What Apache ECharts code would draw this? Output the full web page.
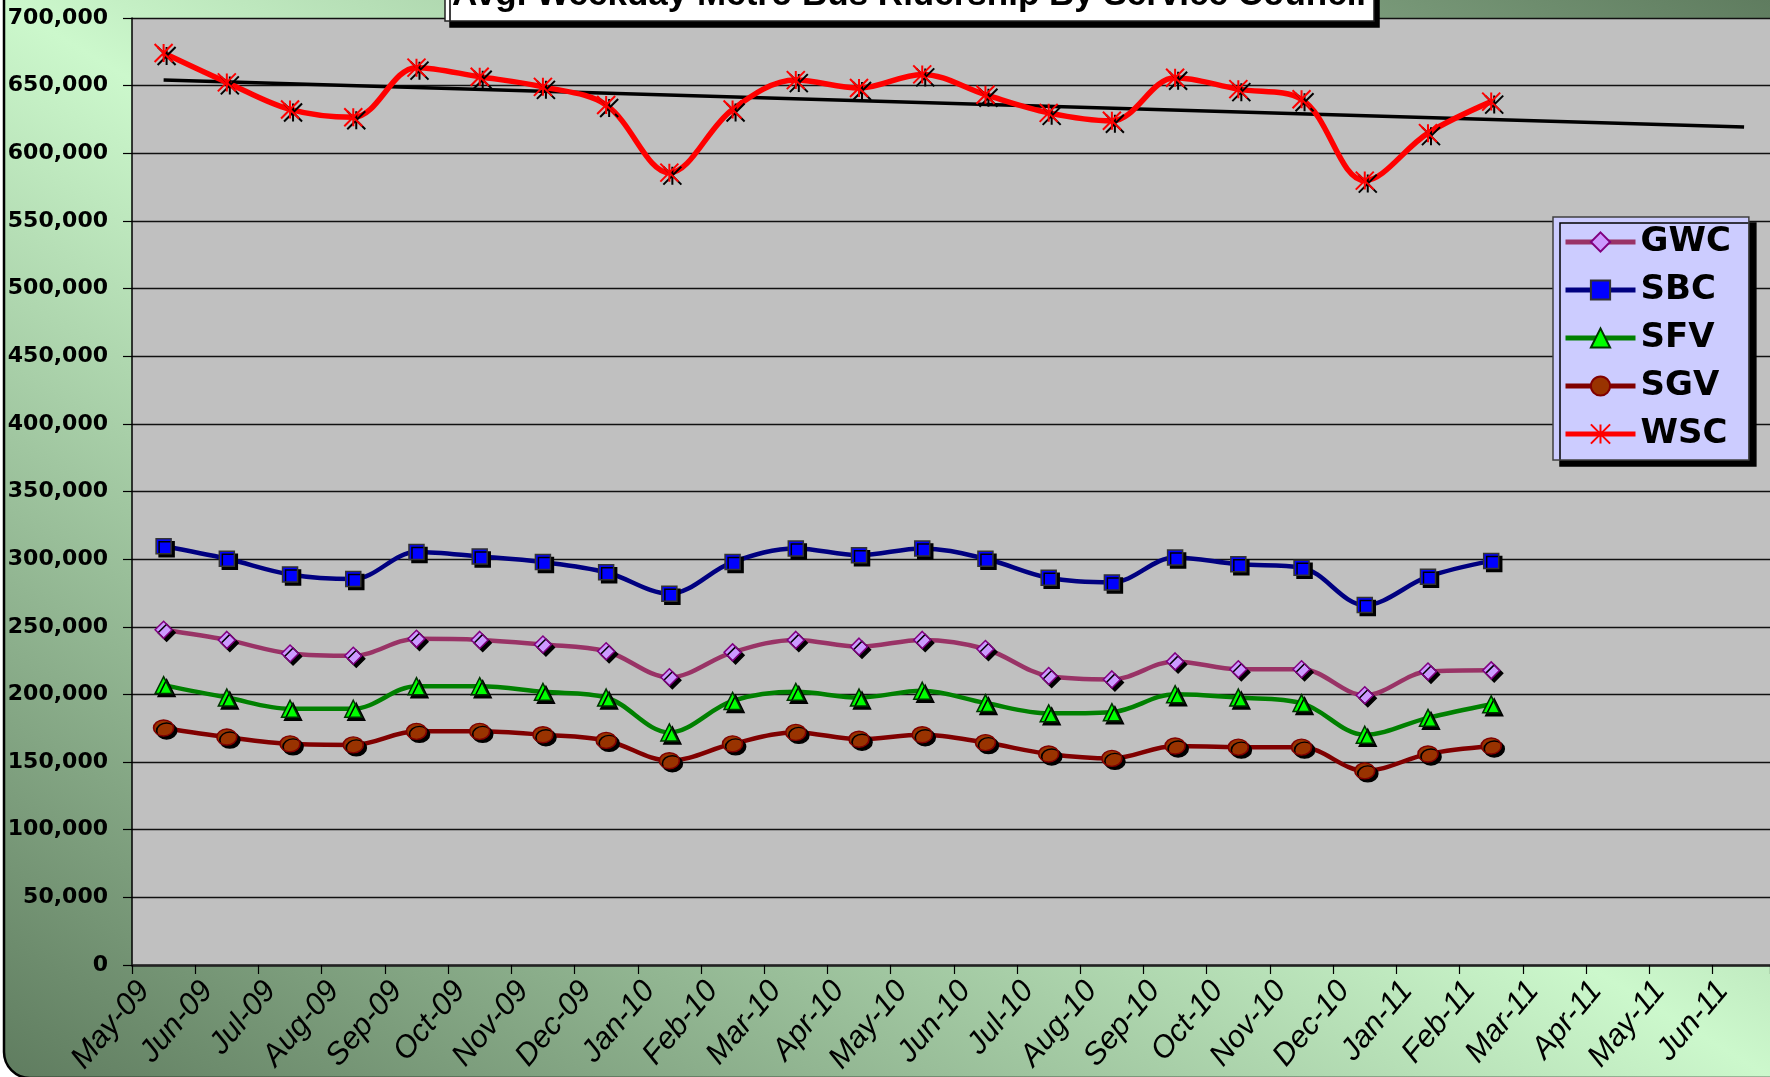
<!DOCTYPE html>
<html><head><meta charset="utf-8">
<script src="https://cdn.jsdelivr.net/npm/echarts@6/dist/echarts.min.js"></script>
<style>html,body{margin:0;padding:0;background:#fff;}#c{width:1770px;height:1077px;}</style>
</head><body><div id="c"></div>
<script>
// tick labels (month boundaries)
const months = ['May-09','Jun-09','Jul-09','Aug-09','Sep-09','Oct-09','Nov-09','Dec-09',
  'Jan-10','Feb-10','Mar-10','Apr-10','May-10','Jun-10','Jul-10','Aug-10','Sep-10','Oct-10','Nov-10','Dec-10',
  'Jan-11','Feb-11','Mar-11','Apr-11','May-11','Jun-11'];
const seriesNames = ['GWC','SBC','SFV','SGV','WSC'];
// values May-09 .. Feb-11
const gwc = [247800,240300,230300,228600,241100,240300,236900,231900,212700,231100,240300,235300,240300,233600,213600,211100,224400,218600,218600,199400,216900,217800];
const sbc = [309500,300300,288700,285300,305300,302000,297800,290300,274500,297800,307900,302900,307900,300300,286200,282800,301200,296200,293700,266100,287000,298700];
const sfv = [206900,197700,189400,189400,206100,206100,201900,197700,171900,195200,201900,197700,202700,193600,186000,186900,200200,197700,193600,170200,182700,192700];
const sgv = [175200,168500,163500,162700,172700,172700,170200,166000,151000,163500,171900,166900,170200,164400,156000,152700,161900,161000,161000,143500,156000,161900];
const wsc = [674100,652400,632400,626600,663300,656600,649100,635700,585700,632400,654100,648200,658300,643300,629900,624000,655800,647400,639900,579800,614900,638200];
// linear trend of WSC: value at first month and at Jun-11
const trendMonths = [0, 25];
const trend = [654100, 619500];

const pts = arr => arr.map((v, i) => [i + 0.5, v]);
const shadow = {shadowColor:'#000', shadowOffsetX:3, shadowOffsetY:3, shadowBlur:0};
const asterisk = 'path://M0,0L20,20M20,0L0,20M10,0L10,20';

const chart = echarts.init(document.getElementById('c'));
const option = {
  animation:false,
  backgroundColor:'#ffffff',
  grid:[
    {left:132, right:0, top:18, height:947, show:true, backgroundColor:'#c0c0c0', borderWidth:0},
    {left:144, right:0, top:18, height:947, show:false}
  ],
  xAxis:[
    {type:'value', gridIndex:0, min:0, max:25.91, interval:1,
     axisLine:{show:true, lineStyle:{color:'#222', width:2.5}},
     axisTick:{show:true, length:9, lineStyle:{color:'#000', width:1.2}},
     axisLabel:{show:false}, splitLine:{show:false}},
    {type:'value', gridIndex:1, min:0, max:25.72, interval:1,
     axisLine:{show:false}, axisTick:{show:false}, splitLine:{show:false},
     axisLabel:{show:true, rotate:50, margin:28, color:'#000',
       fontFamily:'Liberation Sans', fontStyle:'italic', fontSize:31,
       formatter: v => months[v] || ''}}
  ],
  yAxis:[
    {type:'value', gridIndex:0, min:0, max:700000, interval:50000,
     axisLine:{show:true, lineStyle:{color:'#000', width:1.5}},
     axisTick:{show:true, length:9, lineStyle:{color:'#000', width:1.2}},
     splitLine:{show:true, lineStyle:{color:'#111', width:1.3}},
     axisLabel:{margin:24, color:'#000', fontFamily:'DejaVu Sans', fontWeight:'bold', fontSize:22,
       formatter: v => v.toLocaleString('en-US')}},
    {type:'value', gridIndex:1, min:0, max:700000, show:false}
  ],
  legend:{
    data:seriesNames, orient:'vertical', left:1553, top:217,
    itemWidth:70, itemHeight:24, itemGap:14, padding:[8,18,9,10],
    backgroundColor:'#ccccff', borderColor:'#404040', borderWidth:1.5,
    shadowColor:'#000', shadowOffsetX:7, shadowOffsetY:6, shadowBlur:0,
    itemStyle:{shadowColor:'rgba(0,0,0,0)'},
    lineStyle:{width:5},
    textStyle:{fontFamily:'DejaVu Sans', fontWeight:'bold', fontSize:34, color:'#000'}
  },
  series:[
    {name:'Trend', type:'line', xAxisIndex:0, yAxisIndex:0, symbol:'none', silent:true, z:1,
     data: trendMonths.map((m, i) => [m + 0.5, trend[i]]),
     lineStyle:{color:'#000', width:3.5}},
    {name:'GWC', type:'line', smooth:0.35, data:pts(gwc), symbol:'diamond', symbolSize:17, z:3,
     lineStyle:{color:'#993366', width:4.5},
     itemStyle:Object.assign({color:'#cc99ff', borderColor:'#800080', borderWidth:1.5}, shadow)},
    {name:'SBC', type:'line', smooth:0.35, data:pts(sbc), symbol:'rect', symbolSize:15, z:3,
     lineStyle:{color:'#000080', width:4.5},
     itemStyle:Object.assign({color:'#0000ff', borderColor:'#333333', borderWidth:1.5}, shadow)},
    {name:'SFV', type:'line', smooth:0.35, data:pts(sfv), symbol:'triangle', symbolSize:17, z:3,
     lineStyle:{color:'#008000', width:4.5},
     itemStyle:Object.assign({color:'#00ff00', borderColor:'#003300', borderWidth:1.5}, shadow)},
    {name:'SGV', type:'line', smooth:0.35, data:pts(sgv), symbol:'circle', symbolSize:[20,16], z:3,
     lineStyle:{color:'#800000', width:4.5},
     itemStyle:Object.assign({color:'#993300', borderColor:'#800000', borderWidth:1.5}, shadow)},
    {name:'WSC', type:'line', smooth:0.35, data:pts(wsc), symbol:asterisk, symbolSize:18, z:4,
     lineStyle:{color:'#ff0000', width:5.5},
     itemStyle:Object.assign({color:'#ff0000', borderColor:'#ff0000', borderWidth:2}, shadow)}
  ],
  graphic:[
    {type:'rect', z:-100, silent:true,
     shape:{x:4, y:-60, width:1900, height:1138, r:26},
     style:{fill:{type:'linear', x:407, y:1324, x2:1363, y2:-247, global:true,
       colorStops:[{offset:0,color:'#5f7c5f'},{offset:0.5,color:'#ccf8cc'},{offset:1,color:'#5f7c5f'}]},
       stroke:'#000', lineWidth:2.5}},
    {type:'rect', z:100, silent:true,
     shape:{x:445, y:-60, width:929, height:81},
     style:{fill:'#fff', stroke:'#222', lineWidth:1.5, shadowColor:'#000', shadowOffsetX:5, shadowOffsetY:6, shadowBlur:0}},
    {type:'text', z:101, silent:true, x:909, y:-5,
     style:{text:'Avg. Weekday Metro Bus Ridership By Service Council', fill:'#000',
       font:'bold 35px "Liberation Sans"', align:'center', verticalAlign:'middle'}}
  ]
};
chart.setOption(option);
</script></body></html>
